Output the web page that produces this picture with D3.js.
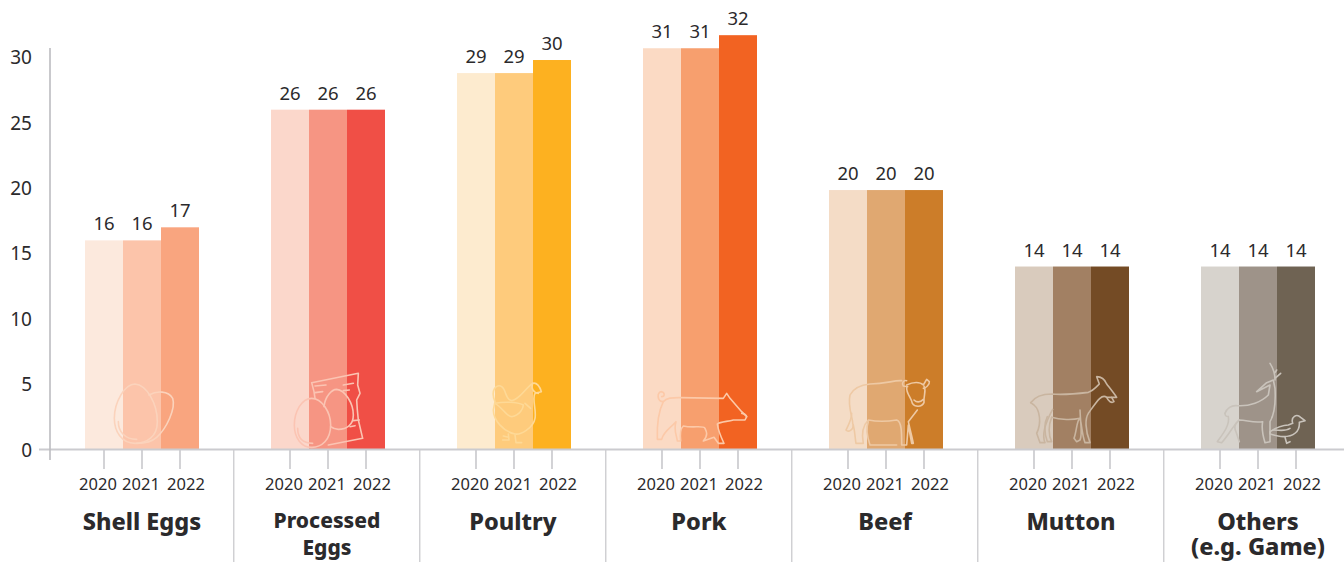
<!DOCTYPE html>
<html><head><meta charset="utf-8">
<script src="https://cdn.jsdelivr.net/npm/d3@7/dist/d3.min.js"></script>
<style>
html,body{margin:0;padding:0;background:#fff;overflow:hidden}
svg{display:block}
text{font-family:"Noto Sans",sans-serif;fill:#2b2a2c}
</style></head><body><svg id="c" width="1344" height="562"></svg>
<script>
const categories=["Shell Eggs","Processed Eggs","Poultry","Pork","Beef","Mutton","Others"];
const years=["2020","2021","2022"];
const shellEggs=[16,16,17];
const processedEggs=[26,26,26];
const poultry=[28.8,28.8,29.8];
const pork=[30.7,30.7,31.7];
const beef=[19.85,19.85,19.85];
const mutton=[14,14,14];
const others=[14,14,14];
const seriesValues=[shellEggs,processedEggs,poultry,pork,beef,mutton,others];
const yTicks=[0,5,10,15,20,25,30];
const palette=[
 ["#fce9dd","#fcc4aa","#f9a57f"],["#fbd7cb","#f69583","#f04f46"],["#fdebcf","#fecb7c","#fdb120"],
 ["#fbdac4","#f79f6e","#f26322"],["#f4dcc6","#e0a871","#cc7d29"],["#d9cbbd","#a28063","#744b25"],["#d7d3cd","#9e9389","#6f6353"]];
const categoryLines=[["Shell Eggs"],["Processed","Eggs"],["Poultry"],["Pork"],["Beef"],["Mutton"],["Others","(e.g. Game)"]];

const svg=d3.select("#c");
const y=d3.scaleLinear().domain([0,30]).range([449.5,57.4]);
const x0=d3.scaleBand().domain(categories).range([47.3,1349.3]);
const x1=d3.scaleBand().domain(years).range([37.7,151.7]);

const groups=svg.selectAll("g.grp").data(categories).join("g").attr("class","grp")
 .attr("transform",d=>`translate(${x0(d)},0)`);
groups.each(function(c,ci){
  const g=d3.select(this);
  g.selectAll("rect").data(years).join("rect")
   .attr("x",d=>x1(d)).attr("width",x1.bandwidth())
   .attr("y",(d,i)=>y(seriesValues[ci][i])).attr("height",(d,i)=>y(0)-y(seriesValues[ci][i]))
   .attr("fill",(d,i)=>palette[ci][i]);
  g.selectAll("text.val").data(years).join("text").attr("class","val")
   .attr("x",d=>x1(d)+x1.bandwidth()/2).attr("y",(d,i)=>y(seriesValues[ci][i])-10)
   .attr("text-anchor","middle").attr("font-size",18.5)
   .text((d,i)=>d3.format(".0f")(seriesValues[ci][i]));
  g.selectAll("line.tk").data(years).join("line").attr("class","tk")
   .attr("x1",d=>x1(d)+x1.bandwidth()/2).attr("x2",d=>x1(d)+x1.bandwidth()/2)
   .attr("y1",449.5).attr("y2",469).attr("stroke","#c4c4c8").attr("stroke-width",1.5);
  const yearShift=[-6,-1,6];
  g.selectAll("text.yr").data(years).join("text").attr("class","yr")
   .attr("x",(d,i)=>x1(d)+x1.bandwidth()/2+yearShift[i]).attr("y",490)
   .attr("text-anchor","middle").attr("font-size",16.5).text(d=>d);
  const ls=categoryLines[ci];
  const small=ci===1;
  g.selectAll("text.cat").data(ls).join("text").attr("class","cat")
   .attr("x",(x1.range()[0]+x1.range()[1])/2+(ci===0?0:-1)+(ci===6?1:0))
   .attr("y",(d,i)=>(small?528:530)+i*(small?27:25))
   .attr("text-anchor","middle").attr("font-weight",800).attr("font-size",small?21:23.5)
   .text(d=>d);
});

svg.selectAll("line.sep").data(categories.slice(1)).join("line").attr("class","sep")
 .attr("x1",d=>x0(d)+.5).attr("x2",d=>x0(d)+.5).attr("y1",449.5).attr("y2",562)
 .attr("stroke","#c0c0c4").attr("stroke-width",1.1);

const ax=svg.append("g");
ax.append("line").attr("x1",39).attr("x2",1344).attr("y1",449.5).attr("y2",449.5).attr("stroke","#cbcbcf").attr("stroke-width",2);
ax.append("line").attr("x1",50).attr("x2",50).attr("y1",48).attr("y2",460).attr("stroke","#bcbcc0").attr("stroke-width",1.6);
ax.selectAll("text").data(yTicks).join("text").attr("x",32).attr("y",d=>y(d)+7)
 .attr("text-anchor","end").attr("font-size",19).text(d=>d);

const icons=[
 {ox:0,c:"#fbd3bc",p:[
  "M405 72C440 75 472 130 472 185C472 230 440 250 405 250C365 250 343 215 343 175C343 125 375 72 405 72Z",
  "M447 105C470 92 505 92 518 115C528 145 500 205 470 232C450 250 425 250 410 250",
  "M355 185C355 215 375 238 410 238"]},
 {ox:0,c:"#fbc4b3",p:[
  "M935 115C965 115 992 155 992 195C992 240 965 262 935 262C905 262 883 235 883 195C883 155 905 115 935 115Z",
  "M893 205C893 235 910 250 938 250",
  "M972 140C975 110 995 88 1010 88C1035 90 1060 130 1060 165C1060 195 1040 208 1015 208C1005 208 998 205 992 200",
  "M945 115L942 95L935 68L1075 40L1073 75L1080 100L1070 120L1072 150L1075 180L1088 235L985 255",
  "M945 78L978 75M945 98L968 95M1030 75L1060 70M1030 92L1048 90M1060 182L1078 180M1050 200L1065 197"]},
 {ox:440,c:"#fed996",p:[
  "M165 125C150 90 170 70 185 80C200 90 195 120 215 122C240 118 255 85 278 70C290 66 300 80 304 95L285 100C275 115 290 150 285 175C280 205 240 225 225 222C190 215 160 180 160 150L165 125",
  "M165 130C190 145 200 170 215 170C240 165 250 145 250 135C230 125 190 125 165 130",
  "M205 222L207 240L188 240M225 225L228 248L245 248M190 228L205 232",
  "M278 70C272 85 280 98 295 100M255 130L272 145"]},
 {ox:440,c:"#fcc9a8",p:[
  "M670 125C650 125 650 95 665 95C675 97 675 110 665 110",
  "M670 125C680 112 700 113 720 113L850 115L860 100L870 115L905 155L920 170L915 180L880 180C860 185 840 185 832 192C835 215 845 235 852 250L835 250L822 232L790 243C805 225 800 215 795 205C790 195 760 205 730 198C722 205 720 225 722 243L712 243C710 225 700 210 708 185C690 205 670 215 665 238L652 238C650 180 660 145 670 125",
  "M905 160C912 160 920 165 920 170"]},
 {ox:440,c:"#eec9a4",p:[
  "M1400 75C1420 65 1440 65 1450 75M1400 62C1390 60 1384 70 1390 78L1403 80M1450 75L1460 58L1468 65C1470 75 1455 85 1450 85",
  "M1400 82C1398 100 1415 115 1417 130C1425 142 1445 142 1452 128C1450 105 1460 95 1452 78M1422 120C1430 128 1440 128 1450 118",
  "M1385 62C1360 60 1340 72 1290 72C1260 75 1240 85 1230 105C1222 140 1240 180 1238 190C1245 210 1245 235 1248 250L1270 250C1265 225 1265 200 1285 180C1310 185 1340 185 1370 180C1385 185 1385 215 1385 255L1400 255L1405 195L1415 250L1420 250C1415 225 1408 200 1405 185L1432 150",
  "M1235 160C1235 180 1225 195 1218 210C1225 218 1240 210 1240 195",
  "M1285 185C1275 210 1285 240 1290 255L1370 255"]},
 {ox:960,c:"#c9b5a0",p:[
  "M212 128C225 110 245 102 275 102C310 105 360 100 385 97C400 92 410 80 418 72L410 50C425 50 435 60 440 72C450 85 462 100 470 112L440 112C425 100 410 125 385 160C375 175 375 210 390 248L375 248C365 220 365 190 360 175C350 180 350 215 342 235L350 245L360 240C368 225 362 200 360 150",
  "M275 172C300 180 340 180 360 175M212 128L222 135C240 150 245 190 230 220L240 248L255 248C245 225 255 190 278 148",
  "M262 170C250 195 255 225 262 245L275 245C265 225 265 195 275 172",
  "M440 112C445 125 455 130 462 125L455 112"]},
 {ox:960,c:"#c9c3bb",p:[
  "M795 160C800 145 815 135 830 137C870 140 905 125 925 105L930 75L890 95L920 68L940 60L945 85C947 120 945 160 930 185L930 245L915 248C905 215 905 200 908 185C880 190 860 180 838 180C825 190 820 200 828 215L838 245",
  "M945 60C945 40 940 25 930 10M945 55L962 40M945 38L950 30",
  "M805 170C810 195 790 220 772 245L785 248C810 220 820 195 838 180M795 160C795 170 800 170 805 170",
  "M930 215C945 205 965 195 985 195L998 190C992 170 1010 160 1022 172L1035 182L1018 187C1020 215 1000 230 970 230C955 230 940 225 930 222Z",
  "M940 210C960 210 975 215 990 205M975 232L980 250L990 245"]}
];
const ig=svg.selectAll("g.icon").data(icons).join("g").attr("class","icon")
 .attr("transform",d=>`translate(${d.ox},360) scale(${1/3})`)
 .attr("fill","none").attr("stroke",d=>d.c).attr("stroke-width",4.8).attr("stroke-linejoin","round").attr("stroke-linecap","round");
ig.selectAll("path").data(d=>d.p).join("path").attr("d",d=>d);
</script></body></html>
